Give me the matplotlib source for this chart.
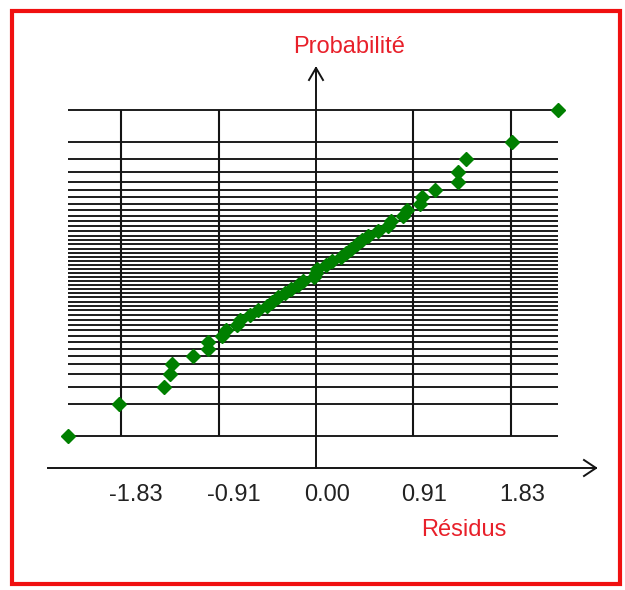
import matplotlib
matplotlib.use('Agg')  # noqa

import matplotlib.pyplot as plt  # noqa
from matplotlib.patches import Rectangle  # noqa

# residuals (sorted) and their normal scores
residus = [
    -2.33, -1.85, -1.43, -1.37, -1.35, -1.15, -1.01, -1.01, -0.88, -0.84,
    -0.74, -0.71, -0.62, -0.54, -0.46, -0.41, -0.36, -0.29, -0.23, -0.17,
    -0.12, -0.02, 0.00, 0.01, 0.09, 0.15, 0.23, 0.28, 0.33, 0.38,
    0.43, 0.49, 0.58, 0.68, 0.70, 0.82, 0.85, 0.98, 0.99, 1.12,
    1.33, 1.33, 1.41, 1.84, 2.27,
]
probabilite = [
    -2.287, -1.834, -1.593, -1.420, -1.282, -1.164, -1.060, -0.967, -0.882,
    -0.803, -0.728, -0.657, -0.589, -0.524, -0.461, -0.400, -0.341, -0.282,
    -0.224, -0.168, -0.112, -0.056, 0.000, 0.056, 0.112, 0.168, 0.224,
    0.282, 0.341, 0.400, 0.461, 0.524, 0.589, 0.657, 0.728, 0.803,
    0.882, 0.967, 1.060, 1.164, 1.282, 1.420, 1.593, 1.834, 2.287,
]
x_ticks = [-1.83, -0.91, 0.00, 0.91, 1.83]
x_labels = ['-1.83', '-0.91', '0.00', '0.91', '1.83']

W, H = 625, 590
X0, Y0 = 316, 273          # pixel position of the origin
SX, SY = 106.6, 71.3       # pixels per unit

RED = '#e8202a'
GREEN = '#008000'
LINE = '#141414'
FONT = 'Liberation Sans'


def px(u):
    return (u - X0) / SX


def py(v):
    return (Y0 - v) / SY


def main():
    fig = plt.figure(figsize=(W / 100, H / 100), dpi=100)
    ax = fig.add_axes([0, 0, 1, 1])
    ax.set_xlim(px(0), px(W))
    ax.set_ylim(py(H), py(0))
    ax.axis('off')

    xmin, xmax = min(residus), max(residus)
    ymin, ymax = min(probabilite), max(probabilite)

    # grid: one horizontal line per point, vertical lines at the ticks
    ax.hlines(probabilite, xmin, xmax, color=LINE, lw=1.35, zorder=1)
    ax.vlines([t for t in x_ticks if t != 0], ymin, ymax,
              color=LINE, lw=1.5, zorder=1)

    # axes with open arrow heads
    x_axis_y = py(468)
    ax.plot([px(48), px(596)], [x_axis_y, x_axis_y], color=LINE, lw=1.4)
    ax.plot([px(584), px(596), px(584)],
            [x_axis_y + 8 / SY, x_axis_y, x_axis_y - 8 / SY],
            color=LINE, lw=1.4)
    ax.plot([0, 0], [x_axis_y, py(68)], color=LINE, lw=1.4)
    ax.plot([-7 / SX, 0, 7 / SX], [py(80), py(68), py(80)],
            color=LINE, lw=1.4)

    ax.plot(residus, probabilite, ls='none', marker='D', ms=7,
            color=GREEN, mec=GREEN, zorder=3)

    for t, lab in zip(x_ticks, x_labels):
        ax.text(t - 12 / SX, py(495), lab, ha='left', va='center',
                fontsize=17, family=FONT, color='#222222')

    ax.text(px(349), py(47), 'Probabilité', ha='center', va='center',
            fontsize=17, family=FONT, color=RED)
    ax.text(px(464), py(530), 'Résidus', ha='center', va='center',
            fontsize=17, family=FONT, color=RED)

    # red frame around the whole chart
    fig.patches.append(Rectangle((12 / W, 1 - 584 / H), 608 / W, 573 / H,
                                 transform=fig.transFigure, fill=False,
                                 ec='#f01010', lw=3))

    fig.savefig('out.png', dpi=100)


if __name__ == '__main__':
    main()
